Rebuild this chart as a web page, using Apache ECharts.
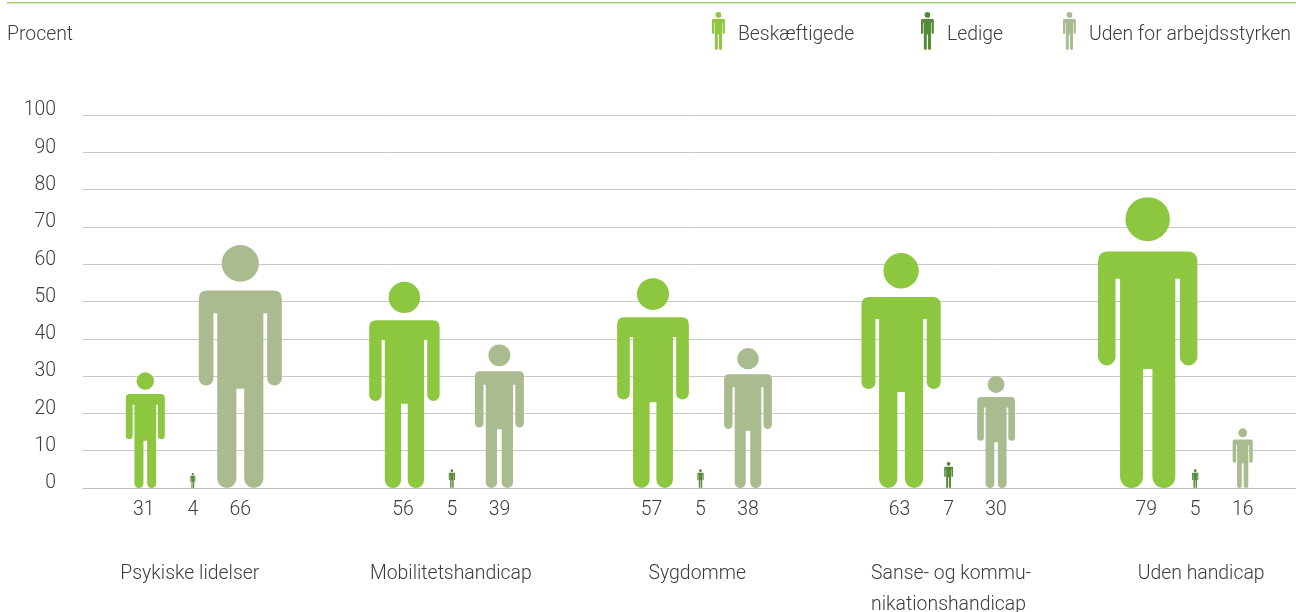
<!DOCTYPE html>
<html>
<head>
<meta charset="utf-8">
<style>html,body{margin:0;padding:0;background:#fff}#c{width:1296px;height:612px}</style>
<script src="https://cdn.jsdelivr.net/npm/echarts@6/dist/echarts.min.js"></script>
</head>
<body>
<div id="c"></div>
<script>
var categories = ['Psykiske lidelser', 'Mobilitetshandicap', 'Sygdomme', 'Sanse- og kommu-\nnikationshandicap', 'Uden handicap'];
var beskaeftigede = [31, 56, 57, 63, 79];
var ledige = [4, 5, 5, 7, 5];
var udenFor = [66, 39, 38, 30, 16];
var yTicks = [0, 10, 20, 30, 40, 50, 60, 70, 80, 90, 100];

var FONT = 'Roboto';
var WEIGHT = 300;
var TEXT = '#3c3c3c';
var FS = 19.4;

// person silhouette in a 295 x 875 box
var PERSON = 'path://M147.5 2 A66 66 0 1 1 147.4 2 Z ' +
  'M30 165 L265 165 Q295 165 295 195 L295 481 A26 26 0 0 1 243 481 L243 247 L229.5 247 L229.5 841 A34 34 0 0 1 161.5 841 L161.5 518 L133.5 518 L133.5 841 A34 34 0 0 1 65.5 841 L65.5 247 L52 247 L52 481 A26 26 0 0 1 0 481 L0 195 Q0 165 30 165 Z';
var PERSON_RATIO = 295 / 875;

// the drawn figures are very slightly shorter than the scale for some marks
var heightTrim = [
  [1, 0.987, 0.987, 1, 0.987],
  [1, 1, 1, 1, 1],
  [0.987, 0.987, 0.987, 1, 1]
];
// horizontal placement tweaks, in pixels, relative to each category band centre
var groupShift = [-11.5, 5, 11, 16.5, 20.5];
var labelShift = [-84, -77, -41, -61, -37];
var slotShift = [-47.5, 0, 47.5];

function pairs(values) {
  return values.map(function (v, i) { return [i, v]; });
}

function personSeries(name, values, color, slot) {
  return {
    name: name,
    type: 'custom',
    coordinateSystem: 'cartesian2d',
    itemStyle: { color: color },
    encode: { x: 0, y: 1 },
    data: pairs(values),
    renderItem: function (params, api) {
      var i = api.value(0), v = api.value(1);
      var base = api.coord([i, 0]);
      var full = api.size([0, v])[1];
      var h = full * heightTrim[slot][i];
      var w = full * PERSON_RATIO;
      var cx = base[0] + groupShift[i] + slotShift[slot];
      return {
        type: 'group',
        children: [
          {
            type: 'path',
            shape: { pathData: PERSON.slice(7), x: cx - w / 2, y: base[1] - h, width: w, height: h, layout: 'cover' },
            style: { fill: color }
          },
          {
            type: 'text',
            style: {
              x: cx - (slot === 0 ? 1.5 : 0), y: base[1] + 22, text: String(v), fill: TEXT,
              font: WEIGHT + ' ' + FS + 'px ' + FONT, textAlign: 'center', textVerticalAlign: 'middle'
            }
          }
        ]
      };
    }
  };
}

var groupLabels = {
  type: 'custom',
  coordinateSystem: 'cartesian2d',
  silent: true,
  data: categories.map(function (c, i) { return [i, 0]; }),
  encode: { x: 0, y: 1 },
  renderItem: function (params, api) {
    var i = api.value(0);
    var base = api.coord([i, 0]);
    return {
      type: 'text',
      style: {
        x: base[0] + labelShift[i], y: base[1] + 71, text: categories[i], fill: TEXT,
        font: WEIGHT + ' ' + FS + 'px ' + FONT, textAlign: 'left', textVerticalAlign: 'top', lineHeight: 31
      }
    };
  }
};

var names = ['Beskæftigede', 'Ledige', 'Uden for arbejdsstyrken'];
var colors = ['#8dc63f', '#578a38', '#a9bb8f'];
var legendLeft = [712, 921, 1063];

var chart = echarts.init(document.getElementById('c'), null, { renderer: 'canvas' });
chart.setOption({
  animation: false,
  backgroundColor: '#fff',
  title: {
    text: 'Procent', left: 2, top: 21,
    textStyle: { fontFamily: FONT, fontWeight: WEIGHT, fontSize: FS, color: TEXT }
  },
  graphic: [{
    type: 'rect', shape: { x: 7, y: 2, width: 1289, height: 1.5 },
    style: { fill: '#a5cf6f' }, silent: true
  }],
  legend: names.map(function (n, i) {
    return {
      data: [{ name: n, icon: PERSON }],
      left: legendLeft[i], top: 12,
      padding: 0,
      itemWidth: 13, itemHeight: 38,
      selectedMode: false,
      formatter: function (s) { return '\n' + s; },
      textStyle: { fontFamily: FONT, fontWeight: WEIGHT, fontSize: FS, color: TEXT, lineHeight: 8, padding: [0, 0, 0, 8] }
    };
  }),
  grid: { left: 83, right: 0, top: 115, bottom: 124, containLabel: false },
  xAxis: {
    type: 'category',
    data: categories,
    axisLine: { show: true, lineStyle: { color: '#bdbdbd', width: 1 } },
    axisTick: { show: false },
    axisLabel: { show: false },
    splitLine: { show: false }
  },
  yAxis: {
    type: 'value', min: 0, max: 100, interval: 10,
    axisLine: { show: false },
    axisTick: { show: false },
    axisLabel: {
      margin: 27, color: TEXT, fontFamily: FONT, fontWeight: WEIGHT, fontSize: FS,
      verticalAlign: 'bottom', lineHeight: 9
    },
    splitLine: { show: true, lineStyle: { color: '#c9c9c9', width: 1 } }
  },
  series: [
    personSeries(names[0], beskaeftigede, colors[0], 0),
    personSeries(names[1], ledige, colors[1], 1),
    personSeries(names[2], udenFor, colors[2], 2),
    groupLabels
  ]
});
</script>
</body>
</html>
